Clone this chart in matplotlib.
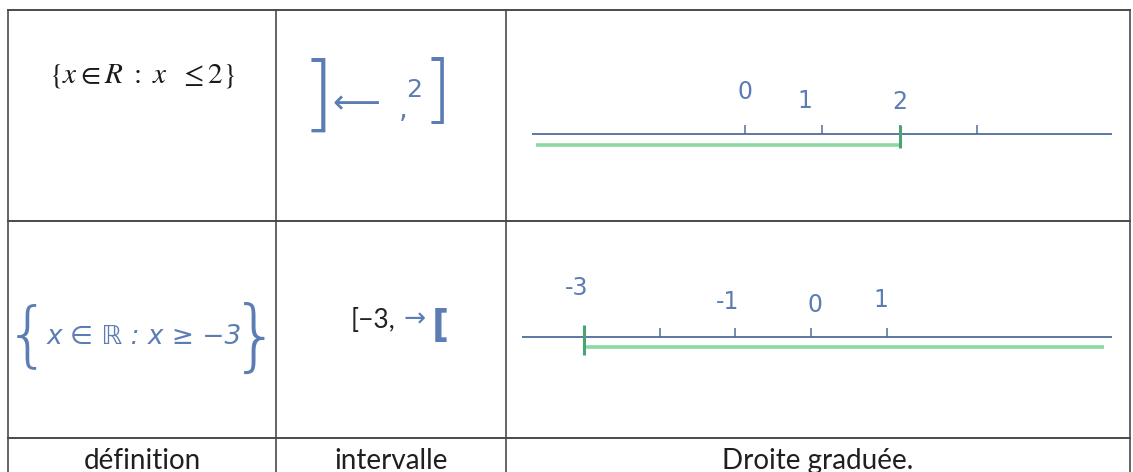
import matplotlib

matplotlib.use("Agg")
import matplotlib.pyplot as plt

W, H = 1133, 472

# first row: {x in R : x <= 2}
ROW1_TICKS = [0, 1, 2, 3]
ROW1_LABELS = ["0", "1", "2"]
ROW1_LABEL_X = [0.0, 0.78, 2.0]
ROW1_LINE = [-2.76, 4.75]
ROW1_SET = [-2.71, 2.0]

# second row: {x in R : x >= -3}
ROW2_TICKS = [-3, -2, -1, 0, 1]
ROW2_LABELS = ["-3", "-1", "0", "1"]
ROW2_LABEL_X = [-3.09, -1.1, 0.05, 0.92]
ROW2_LINE = [-3.82, 3.97]
ROW2_SET = [-3.0, 3.87]

HEADERS = ["définition", "intervalle", "Droite graduée."]

COL_X = [8, 276, 506, 1130]
ROW_Y = [10, 221, 438, 490]

INK = "#5b7db3"
AXIS_BLUE = "#4f6c9c"
GREEN = "#8ad9a2"
DARK_GREEN = "#4aa472"
GRID = "#4a4a4a"


def number_line(fig, cell, origin_px, unit_px, line_y, ticks, labels, label_x, label_dy,
                line_span, set_span, set_end, set_gap, end_tick):
    x0, x1, y0, y1 = cell
    ax = fig.add_axes([x0 / W, 1 - y1 / H, (x1 - x0) / W, (y1 - y0) / H])
    ax.set_xlim((x0 - origin_px) / unit_px, (x1 - origin_px) / unit_px)
    ax.set_ylim(-(y1 - line_y), line_y - y0)
    ax.axis("off")
    ax.plot(line_span, [0, 0], color=AXIS_BLUE, lw=1.3, solid_capstyle="butt")
    ax.vlines(ticks, 0, 9, color=AXIS_BLUE, lw=1.1)
    ax.plot(set_span, [-set_gap, -set_gap], color=GREEN, lw=2.6, solid_capstyle="butt")
    ax.vlines([set_end], end_tick[0], end_tick[1], color=DARK_GREEN, lw=2.2)
    for x, lab, dy in zip(label_x, labels, label_dy):
        ax.text(x, dy, lab, color=INK, fontsize=17, ha="center", va="center",
                family="DejaVu Sans")
    return ax


fig = plt.figure(figsize=(W / 100, H / 100), dpi=100)
bg = fig.add_axes([0, 0, 1, 1])
bg.set_xlim(0, W)
bg.set_ylim(H, 0)
bg.axis("off")

# table grid
for x in COL_X:
    bg.plot([x, x], [ROW_Y[0], H], color=GRID, lw=1.2)
for y in ROW_Y[:3]:
    bg.plot([COL_X[0], COL_X[-1]], [y, y], color=GRID, lw=1.4)

# row 1, definition (typed)
bg.text(142, 76, r"$\{x \in R\ :\ x\ \ \leq 2\}$", fontsize=21, ha="center", va="center",
        math_fontfamily="stix", color="#1a1a1a")

# row 1, interval (handwritten)
bg.text(318, 98, "]", fontsize=60, color=INK, ha="center", va="center", family="DejaVu Sans",
        fontweight="light")
bg.text(356, 104, "\u27f5", fontsize=24, color=INK, ha="center", va="center", family="DejaVu Sans")
bg.text(403, 110, ",", fontsize=20, color=INK, ha="center", va="center", family="DejaVu Sans")
bg.text(414, 90, "2", fontsize=18, color=INK, ha="center", va="center", family="DejaVu Sans")
bg.text(437, 93, "]", fontsize=54, color=INK, ha="center", va="center", family="DejaVu Sans",
        fontweight="light")

# row 2, definition (handwritten)
bg.text(28, 338, "{", fontsize=52, color=INK, ha="center", va="center", family="DejaVu Sans",
        fontweight="light")
bg.text(144, 337, "x \u2208 \u211d : x \u2265 \u22123", fontsize=19, color=INK, ha="center",
        va="center", family="DejaVu Sans", style="italic")
bg.text(256, 340, "}", fontsize=56, color=INK, ha="center", va="center", family="DejaVu Sans",
        fontweight="light")

# row 2, interval
bg.text(373, 320, "[\u22123,", fontsize=19, color="#222222", ha="center", va="center", family="Lato")
bg.text(415, 320, "\u2192", fontsize=19, color=INK, ha="center", va="center", family="DejaVu Sans")
bg.text(440, 326, "[", fontsize=27, color=INK, ha="center", va="center", family="DejaVu Sans",
        fontweight="bold")

# number lines
number_line(fig, (COL_X[2], COL_X[3], ROW_Y[0], ROW_Y[1]), 745, 77.3, 134,
            ROW1_TICKS, ROW1_LABELS, ROW1_LABEL_X, [42, 33, 32],
            ROW1_LINE, ROW1_SET, ROW1_SET[1], 11, (9, -14))
number_line(fig, (COL_X[2], COL_X[3], ROW_Y[1], ROW_Y[2]), 811, 75.75, 337,
            ROW2_TICKS, ROW2_LABELS, ROW2_LABEL_X, [49, 35, 32, 37],
            ROW2_LINE, ROW2_SET, ROW2_SET[0], 10, (12, -18))

# footer headers (cut by the bottom edge, as in the scan)
for i, name in enumerate(HEADERS):
    cx = (COL_X[i] + COL_X[i + 1]) / 2
    bg.text(cx, 469, name, fontsize=20, color="#1f1f1f", ha="center", va="baseline", family="Lato")

fig.savefig("out.png", dpi=100, facecolor="white")
